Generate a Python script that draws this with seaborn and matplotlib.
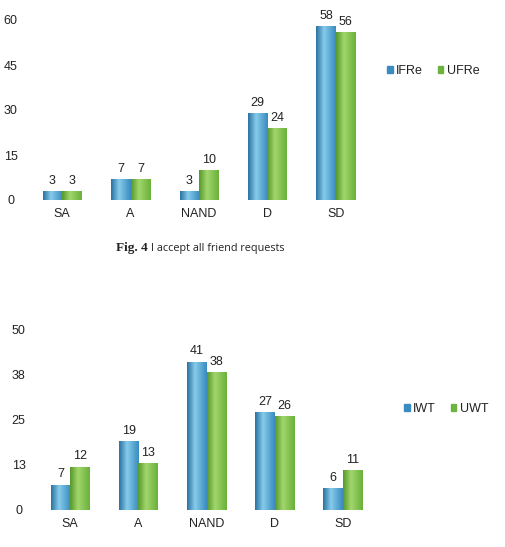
import numpy as np
import pandas as pd
import matplotlib
matplotlib.use("Agg")
import matplotlib.pyplot as plt
from matplotlib.colors import LinearSegmentedColormap
import seaborn as sns

categories = ["SA", "A", "NAND", "D", "SD"]
ifre = [3, 7, 3, 29, 58]
ufre = [3, 7, 10, 24, 56]
iwt = [7, 19, 41, 27, 6]
uwt = [12, 13, 38, 26, 11]
top_ticks = [0, 15, 30, 45, 60]
top_ticklabels = ["0", "15", "30", "45", "60"]
bot_ticks = [0, 12.5, 25, 37.5, 50]
bot_ticklabels = ["0", "13", "25", "38", "50"]

sns.set_theme(style="white")
plt.rcParams['font.family'] = ['Liberation Sans', 'DejaVu Sans']

BLUE = "#3A8CC0"
GREEN = "#6DB43E"
blue_cmap = LinearSegmentedColormap.from_list("b", [(0, "#2A72A0"), (0.4, "#86CBEB"), (1, "#3A8BBE")])
green_cmap = LinearSegmentedColormap.from_list("g", [(0, "#56982C"), (0.4, "#A2D66C"), (1, "#69B13B")])

W, H = 505, 547
FS = 9
SANS = ["Liberation Sans", "DejaVu Sans"]
fig = plt.figure(figsize=(W / 100, H / 100), dpi=100)


def make_panel(rect, s1, s2, names, ticks, ticklabels, ymax, legend_pos):
    ax = fig.add_axes(rect)
    df = pd.DataFrame({
        "cat": categories * 2,
        "val": s1 + s2,
        "series": [names[0]] * len(categories) + [names[1]] * len(categories),
    })
    sns.barplot(data=df, x="cat", y="val", hue="series", order=categories,
                hue_order=names, palette=[BLUE, GREEN], width=0.57,
                ax=ax, legend=False, saturation=1, linewidth=0)
    grad = np.linspace(0, 1, 64).reshape(1, -1)
    for i, cont in enumerate(ax.containers):
        cmap = blue_cmap if i == 0 else green_cmap
        for p in cont.patches:
            x0, w, h = p.get_x(), p.get_width(), p.get_height()
            im = ax.imshow(grad, cmap=cmap, extent=[x0, x0 + w, 0, h],
                           aspect="auto", zorder=p.get_zorder() + 0.1,
                           interpolation="bilinear")
            im.set_clip_path(p)
        ax.bar_label(cont, fmt="%d", padding=3, fontsize=FS, color="#222222",
                     family=SANS)
    ax.set_xlim(-0.5, len(categories) - 0.5)
    ax.set_ylim(0, ymax)
    ax.set_yticks(ticks)
    ax.set_yticklabels(ticklabels, family=SANS)
    ax.set_xticks(range(len(categories)))
    ax.set_xticklabels(categories, family=SANS)
    ax.set_xlabel("")
    ax.set_ylabel("")
    for s in ax.spines.values():
        s.set_visible(False)
    ax.tick_params(axis="x", length=0, pad=6, labelsize=FS, labelcolor="#222222")
    ax.tick_params(axis="y", length=0, pad=12.5, labelsize=FS, labelcolor="#222222")
    for t in ax.get_yticklabels():
        t.set_horizontalalignment("center")
    ax.grid(False)
    handles = [plt.Rectangle((0, 0), 1, 1, color=BLUE),
               plt.Rectangle((0, 0), 1, 1, color=GREEN)]
    fig.legend(handles, names, loc="center left", bbox_to_anchor=legend_pos,
               ncol=2, frameon=False, handlelength=0.42,
               handleheight=0.42, handletextpad=0.3, columnspacing=1.2,
               labelcolor="#222222", prop={"family": SANS, "size": FS})
    return ax


make_panel([28 / W, (H - 200) / H, 342 / W, 180 / H], ifre, ufre,
           ["IFRe", "UFRe"], top_ticks, top_ticklabels, 60,
           (376 / W, (H - 71) / H))
make_panel([36 / W, (H - 510) / H, 341 / W, 181 / H], iwt, uwt,
           ["IWT", "UWT"], bot_ticks, bot_ticklabels, 50,
           (393 / W, (H - 409) / H))

fig.text(116 / W, (H - 248) / H, "Fig. 4", family=["Liberation Serif", "DejaVu Serif"],
         fontweight="bold", fontsize=9.5, va="center", ha="left", color="#222222")
fig.text(151 / W, (H - 248) / H, "I accept all friend requests",
         family=["Open Sans", "DejaVu Sans"], fontsize=7.8, va="center",
         ha="left", color="#222222")

fig.savefig("out.png", dpi=100)
